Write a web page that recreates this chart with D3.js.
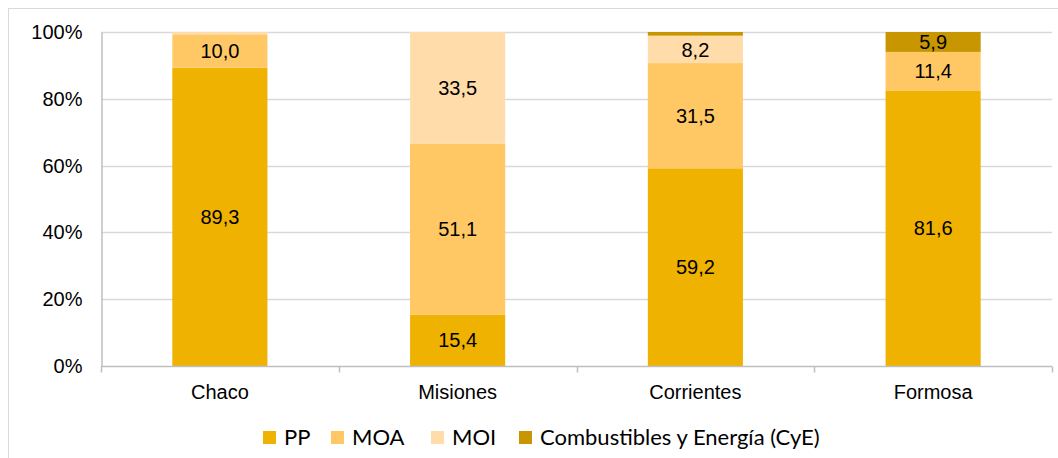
<!DOCTYPE html>
<html><head><meta charset="utf-8">
<script src="https://cdn.jsdelivr.net/npm/d3@7"></script>
<style>body{margin:0;background:#fff}svg{display:block}</style>
</head><body>
<svg id="c" width="1058" height="458"></svg>
<script>
const categories = ["Chaco","Misiones","Corrientes","Formosa"];
const seriesNames = ["PP","MOA","MOI","Combustibles y Energía (CyE)"];
const PP  = [89.3, 15.4, 59.2, 81.6];
const MOA = [10.0, 51.1, 31.5, 11.4];
const MOI = [0.7, 33.5, 8.2, 0.0];
const CyE = [0.0, 0.0, 1.1, 5.9];
const yTicks = [0, 0.2, 0.4, 0.6, 0.8, 1.0];
const colors = ["#EFB200","#FFC864","#FFDCA9","#C89600"];

const keys = ["PP","MOA","MOI","CyE"];
const rows = categories.map((c,i)=>({cat:c, PP:PP[i], MOA:MOA[i], MOI:MOI[i], CyE:CyE[i]}));
const stacked = d3.stack().keys(keys).offset(d3.stackOffsetExpand)(rows);
const FONT = "'Liberation Sans', Arial, sans-serif";

const svg = d3.select("#c");
const m = {l:101, r:1052, t:32, b:366};
svg.append("rect").attr("x",8.5).attr("y",8.5).attr("width",1200).attr("height",600)
  .attr("fill","none").attr("stroke","#d9d9d9");

const x = d3.scaleBand().domain(categories).range([m.l,m.r]).paddingInner(0.6).paddingOuter(0.3);
const y = d3.scaleLinear().domain([0,1]).range([m.b,m.t]);

// gridlines
svg.append("g").selectAll("line").data(yTicks.filter(d=>d>0)).join("line")
  .attr("x1",m.l).attr("x2",m.r).attr("y1",d=>Math.round(y(d))+0.5).attr("y2",d=>Math.round(y(d))+0.5)
  .attr("stroke","#d9d9d9").attr("stroke-width",1.5);

// bars
const g = svg.append("g");
stacked.forEach((s,si)=>{
  g.append("g").attr("fill",colors[si]).selectAll("rect").data(s).join("rect")
    .attr("x",d=>x(d.data.cat)).attr("width",x.bandwidth())
    .attr("y",d=>y(d[1])).attr("height",d=>Math.max(0,y(d[0])-y(d[1])));
});
// labels
stacked.forEach((s,si)=>{
  g.append("g").selectAll("text").data(s.filter(d=>d.data[keys[si]]>=3)).join("text")
    .attr("x",d=>x(d.data.cat)+x.bandwidth()/2)
    .attr("y",d=>(y(d[0])+y(d[1]))/2)
    .attr("dy","0.36em").attr("text-anchor","middle")
    .attr("font-family",FONT).attr("font-size",20).attr("fill","#000")
    .text(d=>d3.format(".1f")(d.data[keys[si]]).replace(".",","));
});

// y axis
const ya = svg.append("g").attr("transform",`translate(${m.l+0.5},0)`)
  .call(d3.axisLeft(y).tickValues(yTicks).tickFormat(d3.format(".0%")).tickSize(0).tickPadding(19));
ya.select(".domain").attr("stroke","#bfbfbf").attr("stroke-width",1.5);
ya.selectAll("text").attr("font-family",FONT).attr("font-size",20).attr("fill","#000");

// x axis
const xa = svg.append("g").attr("transform",`translate(0,${m.b+0.5})`);
xa.append("line").attr("x1",m.l).attr("x2",m.r).attr("stroke","#bfbfbf").attr("stroke-width",1.5);
const bounds = d3.range(categories.length+1).map(i=>m.l + i*(m.r-m.l)/categories.length);
xa.selectAll("line.t").data(bounds).join("line").attr("class","t")
  .attr("x1",d=>Math.round(d)+0.5).attr("x2",d=>Math.round(d)+0.5).attr("y1",0).attr("y2",6)
  .attr("stroke","#bfbfbf").attr("stroke-width",1.5);
xa.selectAll("text").data(categories).join("text")
  .attr("x",d=>x(d)+x.bandwidth()/2).attr("y",26).attr("dy","0.32em").attr("text-anchor","middle")
  .attr("font-family",FONT).attr("font-size",20).attr("fill","#000")
  .text(d=>d);

// legend
const legX = [263, 331, 431, 519];
const lg = svg.append("g");
seriesNames.forEach((n,i)=>{
  lg.append("rect").attr("x",legX[i]).attr("y",431).attr("width",13).attr("height",13).attr("fill",colors[i]);
  lg.append("text").attr("x",legX[i]+21).attr("y",437.5).attr("dy","0.35em")
    .attr("font-family","Lato, sans-serif").attr("font-size",22).attr("fill","#000").text(n);
});
</script>
</body></html>
